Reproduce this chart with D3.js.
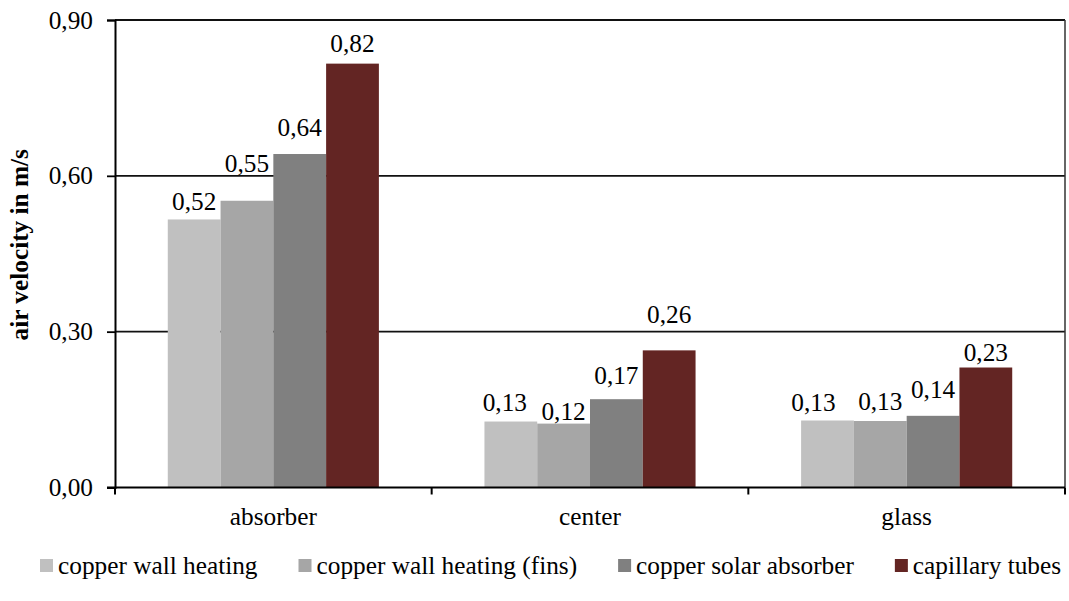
<!DOCTYPE html>
<html>
<head>
<meta charset="utf-8">
<script src="https://cdn.jsdelivr.net/npm/d3@7/dist/d3.min.js"></script>
<style>
  html, body { margin: 0; padding: 0; background: #fff; }
  svg text { font-family: "Liberation Serif", "Tinos", "Times New Roman", "DejaVu Serif", serif; fill: #000; }
</style>
</head>
<body>
<svg id="chart" width="1069" height="601"></svg>
<script>
// Measurement locations along the collector
const categories = ["absorber", "center", "glass"];

// Heating configurations compared
const seriesNames = [
  "copper wall heating",
  "copper wall heating (fins)",
  "copper solar absorber",
  "capillary tubes"
];

// Mean air velocity in m/s, one array per configuration (absorber, center, glass)
const copperWallHeating     = [0.516, 0.127, 0.129];
const copperWallHeatingFins = [0.552, 0.123, 0.128];
const copperSolarAbsorber   = [0.642, 0.170, 0.138];
const capillaryTubes        = [0.816, 0.264, 0.231];

const yTicks = [0, 0.3, 0.6, 0.9];

const seriesValues = [copperWallHeating, copperWallHeatingFins, copperSolarAbsorber, capillaryTubes];
const colors = ["#c0c0c0", "#a6a6a6", "#808080", "#632523"];

// Hand-placed label nudges (px) so labels clear the gridlines
const labelLift = [
  [9, 29, 18, 12],
  [11, 4, 15, 27],
  [9, 11, 18, 7]
];
const labelShift = [
  [0, 0, 0, 0],
  [-6, 0, 0, 0],
  [-14, 0, 0, 0]
];

const FONT = '"Liberation Serif", "Tinos", "Times New Roman", "DejaVu Serif", serif';
const FS = 25.3;
const fmt = v => d3.format(".2f")(v).replace(".", ",");

const svg = d3.select("#chart").attr("font-family", FONT);
const plotLeft = 115, plotRight = 1065, plotTop = 20, plotBottom = 487.5;

const x = d3.scaleBand().domain(categories).range([plotLeft, plotRight]);
const xi = d3.scaleBand().domain(seriesNames).range([0, x.bandwidth()]).paddingOuter(1);
const y = d3.scaleLinear().domain([0, 0.9]).range([plotBottom, plotTop]);

// Horizontal gridlines
svg.append("g")
  .selectAll("line")
  .data(yTicks.filter(t => t > 0))
  .join("line")
  .attr("x1", plotLeft).attr("x2", plotRight)
  .attr("y1", d => y(d)).attr("y2", d => y(d))
  .attr("stroke", "#111").attr("stroke-width", 1.8);

// Right plot-area border
svg.append("line")
  .attr("x1", plotRight).attr("x2", plotRight)
  .attr("y1", plotTop).attr("y2", plotBottom)
  .attr("stroke", "#333").attr("stroke-width", 1.5);

// Bars
const rows = [];
categories.forEach((c, ci) => {
  seriesNames.forEach((s, si) => {
    rows.push({ c, ci, s, si, v: seriesValues[si][ci] });
  });
});

svg.append("g")
  .selectAll("rect")
  .data(rows)
  .join("rect")
  .attr("x", d => x(d.c) + xi(d.s))
  .attr("y", d => y(d.v))
  .attr("width", xi.bandwidth())
  .attr("height", d => y(0) - y(d.v))
  .attr("fill", d => colors[d.si]);

// Value labels
svg.append("g")
  .selectAll("text")
  .data(rows)
  .join("text")
  .attr("x", d => x(d.c) + xi(d.s) + xi.bandwidth() / 2 + labelShift[d.ci][d.si])
  .attr("y", d => y(d.v) - labelLift[d.ci][d.si])
  .attr("text-anchor", "middle")
  .attr("font-family", FONT)
  .attr("font-size", FS)
  .text(d => fmt(d.v));

// Y axis
const yAxis = svg.append("g")
  .attr("transform", `translate(${plotLeft},0)`)
  .call(d3.axisLeft(y).tickValues(yTicks).tickSize(8).tickPadding(14).tickFormat(fmt));
yAxis.attr("font-family", FONT);
yAxis.select(".domain").attr("stroke", "#000").attr("stroke-width", 2);
yAxis.selectAll(".tick line").attr("stroke", "#000").attr("stroke-width", 1.8);
yAxis.selectAll(".tick text")
  .attr("font-family", FONT)
  .attr("font-size", FS).attr("fill", "#000");

// X axis with ticks between categories
const xAxisG = svg.append("g").attr("transform", `translate(0,${plotBottom})`);
xAxisG.append("line")
  .attr("x1", plotLeft - 8).attr("x2", plotRight)
  .attr("stroke", "#000").attr("stroke-width", 2);
const boundaries = categories.map(c => x(c)).concat([x(categories[categories.length - 1]) + x.bandwidth()]);
xAxisG.selectAll("line.tk")
  .data(boundaries)
  .join("line")
  .attr("class", "tk")
  .attr("x1", d => d).attr("x2", d => d)
  .attr("y1", 0).attr("y2", 7)
  .attr("stroke", "#000").attr("stroke-width", 2);
xAxisG.selectAll("text")
  .data(categories)
  .join("text")
  .attr("x", d => x(d) + x.bandwidth() / 2)
  .attr("y", 37.5)
  .attr("text-anchor", "middle")
  .attr("font-family", FONT)
  .attr("font-size", FS)
  .text(d => d);

// Y axis title
svg.append("text")
  .attr("transform", `translate(28,${(plotTop + plotBottom) / 2 - 9}) rotate(-90)`)
  .attr("text-anchor", "middle")
  .attr("font-family", FONT)
  .attr("font-size", FS)
  .attr("font-weight", "bold")
  .text("air velocity in m/s");

// Legend
const legend = svg.append("g").attr("transform", "translate(40,574)");
let cursor = 0;
seriesNames.forEach((s, i) => {
  const item = legend.append("g").attr("transform", `translate(${cursor},0)`);
  item.append("rect")
    .attr("x", 0).attr("y", -15)
    .attr("width", 13).attr("height", 13)
    .attr("fill", colors[i]);
  const t = item.append("text")
    .attr("x", 18).attr("y", 0)
    .attr("font-family", FONT)
    .attr("font-size", FS)
    .text(s);
  cursor += 18 + t.node().getComputedTextLength() + 41;
});
</script>
</body>
</html>
